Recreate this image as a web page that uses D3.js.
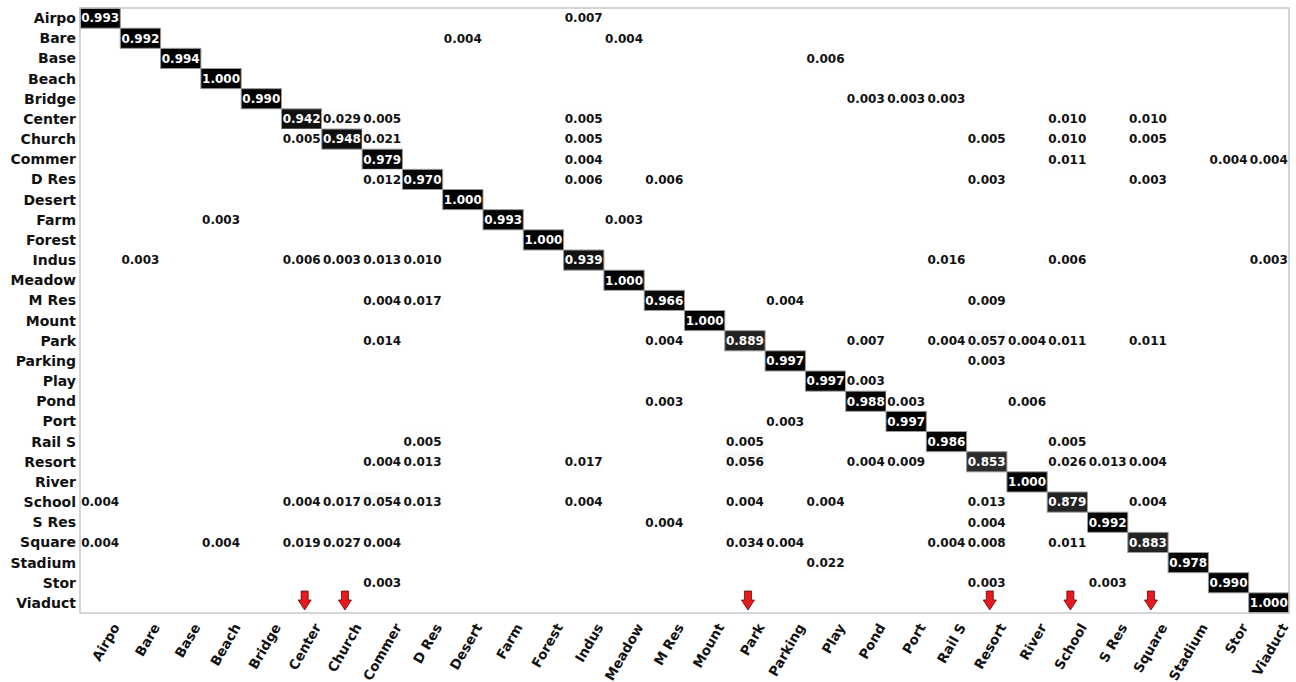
<!DOCTYPE html>
<html>
<head>
<meta charset="utf-8">
<script src="https://cdn.jsdelivr.net/npm/d3@7/dist/d3.min.js"></script>
<style>
  html, body { margin: 0; padding: 0; background: #fff; }
  svg { display: block; }
  text { font-family: "DejaVu Sans", sans-serif; font-weight: bold; }
</style>
</head>
<body>
<svg id="chart" width="1296" height="682"></svg>
<script>
// Class names (rows = true class, columns = predicted class)
const classes = ["Airpo", "Bare", "Base", "Beach", "Bridge", "Center", "Church", "Commer",
  "D Res", "Desert", "Farm", "Forest", "Indus", "Meadow", "M Res", "Mount", "Park",
  "Parking", "Play", "Pond", "Port", "Rail S", "Resort", "River", "School", "S Res",
  "Square", "Stadium", "Stor", "Viaduct"];

// Non-zero entries of each row of the normalised confusion matrix
const rowAirpo   = { "Airpo": 0.993, "Indus": 0.007 };
const rowBare    = { "Bare": 0.992, "Desert": 0.004, "Meadow": 0.004 };
const rowBase    = { "Base": 0.994, "Play": 0.006 };
const rowBeach   = { "Beach": 1.000 };
const rowBridge  = { "Bridge": 0.990, "Pond": 0.003, "Port": 0.003, "Rail S": 0.003 };
const rowCenter  = { "Center": 0.942, "Church": 0.029, "Commer": 0.005, "Indus": 0.005, "School": 0.010, "Square": 0.010 };
const rowChurch  = { "Center": 0.005, "Church": 0.948, "Commer": 0.021, "Indus": 0.005, "Resort": 0.005, "School": 0.010, "Square": 0.005 };
const rowCommer  = { "Commer": 0.979, "Indus": 0.004, "School": 0.011, "Stor": 0.004, "Viaduct": 0.004 };
const rowDRes    = { "Commer": 0.012, "D Res": 0.970, "Indus": 0.006, "M Res": 0.006, "Resort": 0.003, "Square": 0.003 };
const rowDesert  = { "Desert": 1.000 };
const rowFarm    = { "Beach": 0.003, "Farm": 0.993, "Meadow": 0.003 };
const rowForest  = { "Forest": 1.000 };
const rowIndus   = { "Bare": 0.003, "Center": 0.006, "Church": 0.003, "Commer": 0.013, "D Res": 0.010, "Indus": 0.939, "Rail S": 0.016, "School": 0.006, "Viaduct": 0.003 };
const rowMeadow  = { "Meadow": 1.000 };
const rowMRes    = { "Commer": 0.004, "D Res": 0.017, "M Res": 0.966, "Parking": 0.004, "Resort": 0.009 };
const rowMount   = { "Mount": 1.000 };
const rowPark    = { "Commer": 0.014, "M Res": 0.004, "Park": 0.889, "Pond": 0.007, "Rail S": 0.004, "Resort": 0.057, "River": 0.004, "School": 0.011, "Square": 0.011 };
const rowParking = { "Parking": 0.997, "Resort": 0.003 };
const rowPlay    = { "Play": 0.997, "Pond": 0.003 };
const rowPond    = { "M Res": 0.003, "Pond": 0.988, "Port": 0.003, "River": 0.006 };
const rowPort    = { "Parking": 0.003, "Port": 0.997 };
const rowRailS   = { "D Res": 0.005, "Park": 0.005, "Rail S": 0.986, "School": 0.005 };
const rowResort  = { "Commer": 0.004, "D Res": 0.013, "Indus": 0.017, "Park": 0.056, "Pond": 0.004, "Port": 0.009, "Resort": 0.853, "School": 0.026, "S Res": 0.013, "Square": 0.004 };
const rowRiver   = { "River": 1.000 };
const rowSchool  = { "Airpo": 0.004, "Center": 0.004, "Church": 0.017, "Commer": 0.054, "D Res": 0.013, "Indus": 0.004, "Park": 0.004, "Play": 0.004, "Resort": 0.013, "School": 0.879, "Square": 0.004 };
const rowSRes    = { "M Res": 0.004, "Resort": 0.004, "S Res": 0.992 };
const rowSquare  = { "Airpo": 0.004, "Beach": 0.004, "Center": 0.019, "Church": 0.027, "Commer": 0.004, "Park": 0.034, "Parking": 0.004, "Rail S": 0.004, "Resort": 0.008, "School": 0.011, "Square": 0.883 };
const rowStadium = { "Play": 0.022, "Stadium": 0.978 };
const rowStor    = { "Commer": 0.003, "Resort": 0.003, "S Res": 0.003, "Stor": 0.990 };
const rowViaduct = { "Viaduct": 1.000 };

const rows = [rowAirpo, rowBare, rowBase, rowBeach, rowBridge, rowCenter, rowChurch, rowCommer,
  rowDRes, rowDesert, rowFarm, rowForest, rowIndus, rowMeadow, rowMRes, rowMount, rowPark,
  rowParking, rowPlay, rowPond, rowPort, rowRailS, rowResort, rowRiver, rowSchool, rowSRes,
  rowSquare, rowStadium, rowStor, rowViaduct];

// Columns marked with a red arrow
const markedClasses = ["Center", "Church", "Park", "Resort", "School", "Square"];

// ---- drawing ----
const svg = d3.select("#chart");
const margin = { left: 80, top: 8, right: 7, bottom: 69 };
const W = 1296, H = 682;
const plotW = W - margin.left - margin.right;
const plotH = H - margin.top - margin.bottom;

const x = d3.scaleBand().domain(classes).range([0, plotW]);
const y = d3.scaleBand().domain(classes).range([0, plotH]);

// Piecewise-linear grey ramp (white -> black)
const greyStops = ["#ffffff", "#f0f0f0", "#d9d9d9", "#bdbdbd", "#969696",
  "#737373", "#525252", "#252525", "#000000"];
const color = d3.scaleLinear()
  .domain(d3.range(greyStops.length).map(i => i / (greyStops.length - 1)))
  .range(greyStops)
  .interpolate(d3.interpolateRgb);

const g = svg.append("g").attr("transform", `translate(${margin.left},${margin.top})`);

const cells = [];
rows.forEach((row, i) => {
  Object.entries(row).forEach(([pred, v]) => cells.push({ actual: classes[i], pred, v }));
});

const cell = g.selectAll("g.cell").data(cells).join("g").attr("class", "cell");

cell.append("rect")
  .attr("x", d => x(d.pred))
  .attr("y", d => y(d.actual))
  .attr("width", x.bandwidth())
  .attr("height", y.bandwidth())
  .attr("fill", d => color(d.v))
  .attr("stroke", d => d.v > 0.5 ? "#9a9a9a" : "none")
  .attr("stroke-width", 1);

cell.append("text")
  .attr("x", d => x(d.pred) + x.bandwidth() / 2)
  .attr("y", d => y(d.actual) + y.bandwidth() / 2)
  .attr("dy", "0.36em")
  .attr("text-anchor", "middle")
  .attr("font-size", 12)
  .attr("fill", d => d.v > 0.5 ? "#ffffff" : "#111111")
  .text(d => d.v.toFixed(3));

// frame
g.append("rect")
  .attr("x", 0).attr("y", 0)
  .attr("width", plotW).attr("height", plotH)
  .attr("fill", "none")
  .attr("stroke", "#c8c8c8")
  .attr("stroke-width", 1.5);

// y axis labels
g.append("g").selectAll("text").data(classes).join("text")
  .attr("x", -4)
  .attr("y", d => y(d) + y.bandwidth() / 2)
  .attr("dy", "0.36em")
  .attr("text-anchor", "end")
  .attr("font-size", 14)
  .attr("fill", "#111")
  .text(d => d);

// x axis labels, rotated
g.append("g").selectAll("text").data(classes).join("text")
  .attr("transform", d => `translate(${x(d) + x.bandwidth() / 2 + 20},${plotH + 14}) rotate(-60)`)
  .attr("text-anchor", "end")
  .attr("font-size", 13.5)
  .attr("fill", "#111")
  .text(d => d);

// red down-arrows on the bottom row for the marked columns
const arrowPath = d3.path();
arrowPath.moveTo(-3.5, 0);
arrowPath.lineTo(3.5, 0);
arrowPath.lineTo(3.5, 9);
arrowPath.lineTo(6.5, 9);
arrowPath.lineTo(0, 19);
arrowPath.lineTo(-6.5, 9);
arrowPath.lineTo(-3.5, 9);
arrowPath.closePath();

g.append("g").selectAll("path").data(markedClasses).join("path")
  .attr("transform", d => `translate(${x(d) + x.bandwidth() / 2 + 3},${plotH - 22})`)
  .attr("d", arrowPath.toString())
  .attr("fill", "#e8191e")
  .attr("stroke", "#5a0a0a")
  .attr("stroke-width", 0.8);
</script>
</body>
</html>
